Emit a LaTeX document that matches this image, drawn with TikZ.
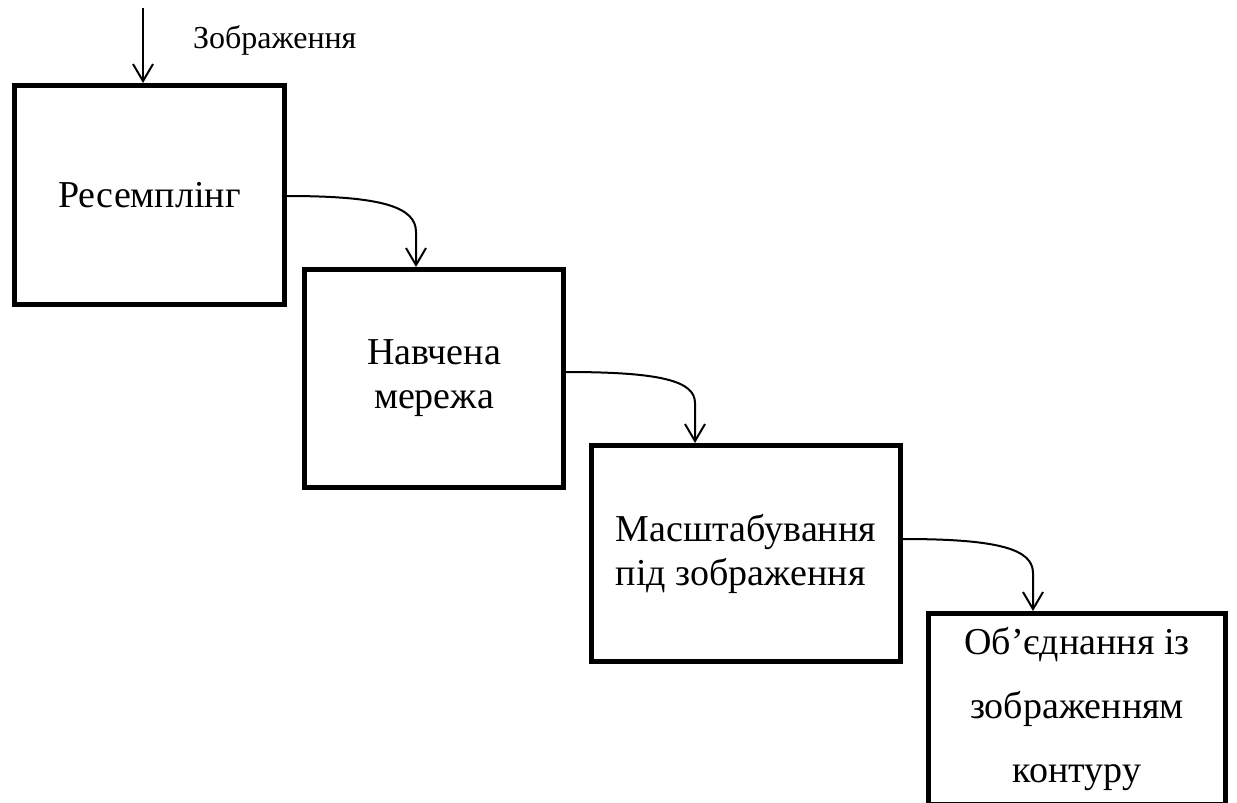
\documentclass[tikz,border=0pt]{standalone}
\usepackage{fontspec}
\setmainfont{Liberation Serif}
\usetikzlibrary{arrows.meta}

\begin{document}
\begin{tikzpicture}[x=0.5pt,y=-0.5pt,
    blok/.style={draw, line width=2.5pt, inner sep=0pt, align=center,
      font=\fontsize{19}{22}\selectfont},
    zvyazok/.style={line width=1pt, -{Straight Barb[length=8.5pt,width=10pt]}}]
  \useasboundingbox (0,0) rectangle (1237,803);

  % Блоки
  \node[blok, minimum width=135pt, minimum height=109.5pt] (res) at (149.5,195) {Ресемплінг};
  \node[blok, minimum width=129.5pt, minimum height=109pt] (mer) at (434,378.5) {Навчена\\мережа};
  \node[blok, minimum width=154.5pt, minimum height=108pt, align=left] (mas) at (746,553.5) {Масштабування\\під зображення};
  \node[blok, minimum width=148.5pt, minimum height=95.5pt,
    font=\fontsize{19}{32}\selectfont] (obj) at (1077,709) {Об’єднання із\\зображенням\\контуру};

  % Вхід
  \coordinate (vhid) at (143,8);
  \draw[zvyazok] (vhid) -- (vhid |- res.north);
  \node[anchor=west, font=\fontsize{16}{19}\selectfont] (zobr) at (186,40) {Зображення};

  % Зв'язки між блоками
  \coordinate (k1) at (416,232);
  \coordinate (k2) at (695,403);
  \coordinate (k3) at (1033,573);
  \draw[zvyazok] (res.east |- 0,196) .. controls +(95,0) and +(0,-25) .. (k1) -- (k1 |- mer.north);
  \draw[zvyazok] (mer.east |- 0,372) .. controls +(95,0) and +(0,-22) .. (k2) -- (k2 |- mas.north);
  \draw[zvyazok] (mas.east |- 0,539) .. controls +(95,0) and +(0,-24) .. (k3) -- (k3 |- obj.north);
\end{tikzpicture}
\end{document}
